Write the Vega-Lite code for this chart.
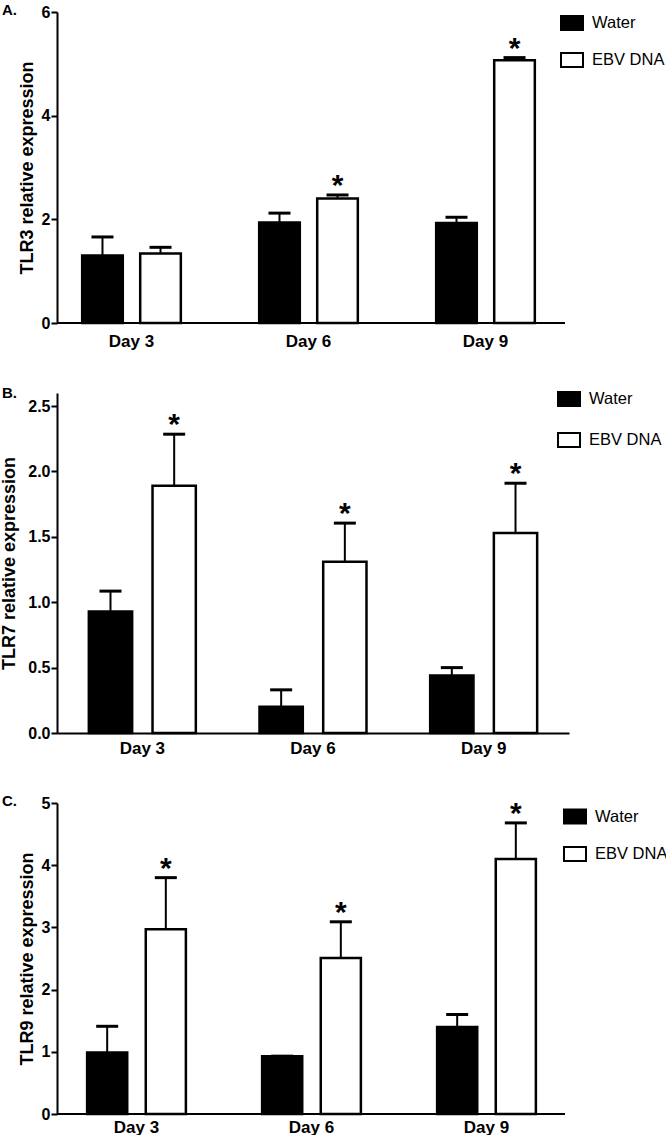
{
  "$schema": "https://vega.github.io/schema/vega-lite/v6.json",
  "background": "white",
  "padding": {"left": 0, "top": 3, "right": 0, "bottom": 0},
  "bounds": "flush",
  "spacing": 70,
  "resolve": {"scale": {"fill": "independent", "y": "independent", "x": "independent", "xOffset": "independent"}, "legend": {"fill": "independent"}, "axis": {"y": "independent", "x": "independent"}},
  "config": {
    "view": {"stroke": null},
    "font": "Liberation Sans",
    "axis": {
      "grid": false,
      "domainColor": "black",
      "domainWidth": 2,
      "tickColor": "black",
      "tickWidth": 2,
      "tickSize": 6,
      "labelColor": "black",
      "labelFont": "Liberation Sans",
      "labelFontWeight": "bold",
      "labelFontSize": 16,
      "titleColor": "black",
      "titleFont": "Liberation Sans",
      "titleFontWeight": "bold",
      "titleFontSize": 18
    },
    "legend": {
      "orient": "none",
      "title": null,
      "padding": 0,
      "labelFont": "Liberation Sans",
      "labelFontSize": 16.5,
      "labelColor": "black",
      "labelOffset": 8,
      "symbolType": "M-1,-0.64H1V0.64H-1Z",
      "symbolSize": 484,
      "symbolStrokeColor": "black",
      "symbolStrokeWidth": 2
    },
    "title": {"font": "Liberation Sans", "fontWeight": "bold", "fontSize": 15, "color": "black"}
  },
  "datasets": {
    "tlr3": [
      {"day": "Day 3", "group": "Water", "value": 1.30, "err": 1.66, "star": false},
      {"day": "Day 3", "group": "EBV DNA", "value": 1.34, "err": 1.46, "star": false},
      {"day": "Day 6", "group": "Water", "value": 1.94, "err": 2.12, "star": false},
      {"day": "Day 6", "group": "EBV DNA", "value": 2.40, "err": 2.47, "star": true},
      {"day": "Day 9", "group": "Water", "value": 1.93, "err": 2.04, "star": false},
      {"day": "Day 9", "group": "EBV DNA", "value": 5.07, "err": 5.12, "star": true}
    ],
    "tlr7": [
      {"day": "Day 3", "group": "Water", "value": 0.93, "err": 1.085, "star": false},
      {"day": "Day 3", "group": "EBV DNA", "value": 1.89, "err": 2.285, "star": true},
      {"day": "Day 6", "group": "Water", "value": 0.20, "err": 0.33, "star": false},
      {"day": "Day 6", "group": "EBV DNA", "value": 1.31, "err": 1.605, "star": true},
      {"day": "Day 9", "group": "Water", "value": 0.44, "err": 0.50, "star": false},
      {"day": "Day 9", "group": "EBV DNA", "value": 1.53, "err": 1.91, "star": true}
    ],
    "tlr9": [
      {"day": "Day 3", "group": "Water", "value": 0.99, "err": 1.41, "star": false},
      {"day": "Day 3", "group": "EBV DNA", "value": 2.97, "err": 3.80, "star": true},
      {"day": "Day 6", "group": "Water", "value": 0.93, "err": 0.93, "star": false},
      {"day": "Day 6", "group": "EBV DNA", "value": 2.51, "err": 3.09, "star": true},
      {"day": "Day 9", "group": "Water", "value": 1.40, "err": 1.60, "star": false},
      {"day": "Day 9", "group": "EBV DNA", "value": 4.10, "err": 4.68, "star": true}
    ]
  },
  "vconcat": [
    {
      "width": 508,
      "height": 311,
      "title": {"text": "A.", "anchor": "start", "frame": "group", "baseline": "alphabetic", "offset": 0, "dx": -55, "dy": 26},
      "data": {"name": "tlr3"},
      "layer": [
        {
          "encoding": {
            "x": {"field": "day", "type": "nominal", "sort": ["Day 3", "Day 6", "Day 9"], "scale": {"range": [-14, 517], "paddingInner": 0, "paddingOuter": 0},
                  "axis": {"title": null, "labelAngle": 0, "ticks": false, "domain": false, "labelPadding": 10, "labelFontSize": 17}},
            "xOffset": {"field": "group", "type": "nominal", "sort": ["Water", "EBV DNA"], "scale": {"paddingInner": 0.3, "paddingOuter": 0.675}}
          },
          "layer": [
            {
              "mark": {"type": "bar", "stroke": "black", "strokeWidth": 2.5},
              "encoding": {
                "y": {"field": "value", "type": "quantitative", "scale": {"domain": [0, 6]},
                      "axis": {"title": "TLR3 relative expression", "values": [0, 2, 4, 6], "format": "d", "labelPadding": 1, "titlePadding": 5}},
                "fill": {"field": "group", "type": "nominal", "scale": {"domain": ["Water", "EBV DNA"], "range": ["black", "white"]},
                         "legend": {"legendX": 503, "legendY": -1, "rowPadding": 13}}
              }
            },
            {
              "mark": {"type": "rule", "color": "black", "strokeWidth": 2, "opacity": 1},
              "encoding": {"y": {"field": "value", "type": "quantitative"}, "y2": {"field": "err"}}
            },
            {
              "mark": {"type": "tick", "color": "black", "thickness": 3, "size": 22, "opacity": 1},
              "encoding": {"y": {"field": "err", "type": "quantitative"}}
            },
            {
              "transform": [{"filter": "datum.star"}],
              "mark": {"type": "text", "text": "*", "fontSize": 30, "fontWeight": "bold", "baseline": "alphabetic", "color": "black"},
              "encoding": {"y": {"field": "err", "type": "quantitative"}}
            }
          ]
        },
        {
          "mark": {"type": "rule", "color": "black", "strokeWidth": 2},
          "encoding": {"y": {"datum": 0}}
        }
      ]
    },
    {
      "width": 512,
      "height": 340,
      "title": {"text": "B.", "anchor": "start", "frame": "group", "baseline": "alphabetic", "offset": 0, "dx": -55, "dy": 26},
      "data": {"name": "tlr7"},
      "encoding": {
        "x": {"field": "day", "type": "nominal", "sort": ["Day 3", "Day 6", "Day 9"], "scale": {"paddingInner": 0, "paddingOuter": 0},
              "axis": {"title": null, "labelAngle": 0, "ticks": false, "labelPadding": 7, "labelFontSize": 17}},
        "xOffset": {"field": "group", "type": "nominal", "sort": ["Water", "EBV DNA"], "scale": {"paddingInner": 0.32, "paddingOuter": 0.5}}
      },
      "layer": [
        {
          "mark": {"type": "bar", "stroke": "black", "strokeWidth": 2.5},
          "encoding": {
            "y": {"field": "value", "type": "quantitative", "scale": {"domain": [0, 2.5]},
                  "axis": {"title": "TLR7 relative expression", "values": [0, 0.5, 1, 1.5, 2, 2.5], "format": ".1f", "labelPadding": 1, "titlePadding": 9}},
            "fill": {"field": "group", "type": "nominal", "scale": {"domain": ["Water", "EBV DNA"], "range": ["black", "white"]},
                     "legend": {"legendX": 500, "legendY": -6, "rowPadding": 17}}
          }
        },
        {
          "mark": {"type": "rule", "color": "black", "strokeWidth": 2, "opacity": 1},
          "encoding": {"y": {"field": "value", "type": "quantitative"}, "y2": {"field": "err"}}
        },
        {
          "mark": {"type": "tick", "color": "black", "thickness": 3, "size": 22, "opacity": 1},
          "encoding": {"y": {"field": "err", "type": "quantitative"}}
        },
        {
          "transform": [{"filter": "datum.star"}],
          "mark": {"type": "text", "text": "*", "fontSize": 30, "fontWeight": "bold", "baseline": "alphabetic", "color": "black"},
          "encoding": {"y": {"field": "err", "type": "quantitative"}}
        }
      ]
    },
    {
      "width": 508,
      "height": 311,
      "title": {"text": "C.", "anchor": "start", "frame": "group", "baseline": "alphabetic", "offset": 0, "dx": -55, "dy": 26},
      "data": {"name": "tlr9"},
      "layer": [
        {
          "encoding": {
            "x": {"field": "day", "type": "nominal", "sort": ["Day 3", "Day 6", "Day 9"], "scale": {"range": [-8, 517], "paddingInner": 0, "paddingOuter": 0},
                  "axis": {"title": null, "labelAngle": 0, "ticks": false, "domain": false, "labelPadding": 5, "labelFontSize": 17}},
            "xOffset": {"field": "group", "type": "nominal", "sort": ["Water", "EBV DNA"], "scale": {"paddingInner": 0.316, "paddingOuter": 0.65}}
          },
          "layer": [
            {
              "mark": {"type": "bar", "stroke": "black", "strokeWidth": 2.5},
              "encoding": {
                "y": {"field": "value", "type": "quantitative", "scale": {"domain": [0, 5]},
                      "axis": {"title": "TLR9 relative expression", "values": [0, 1, 2, 3, 4, 5], "format": "d", "labelPadding": 1, "titlePadding": 5}},
                "fill": {"field": "group", "type": "nominal", "scale": {"domain": ["Water", "EBV DNA"], "range": ["black", "white"]},
                         "legend": {"legendX": 506, "legendY": 1.5, "rowPadding": 13.5}}
              }
            },
            {
              "mark": {"type": "rule", "color": "black", "strokeWidth": 2, "opacity": 1},
              "encoding": {"y": {"field": "value", "type": "quantitative"}, "y2": {"field": "err"}}
            },
            {
              "mark": {"type": "tick", "color": "black", "thickness": 3, "size": 22, "opacity": 1},
              "encoding": {"y": {"field": "err", "type": "quantitative"}}
            },
            {
              "transform": [{"filter": "datum.star"}],
              "mark": {"type": "text", "text": "*", "fontSize": 30, "fontWeight": "bold", "baseline": "alphabetic", "color": "black"},
              "encoding": {"y": {"field": "err", "type": "quantitative"}}
            }
          ]
        },
        {
          "mark": {"type": "rule", "color": "black", "strokeWidth": 2},
          "encoding": {"y": {"datum": 0}}
        }
      ]
    }
  ]
}
